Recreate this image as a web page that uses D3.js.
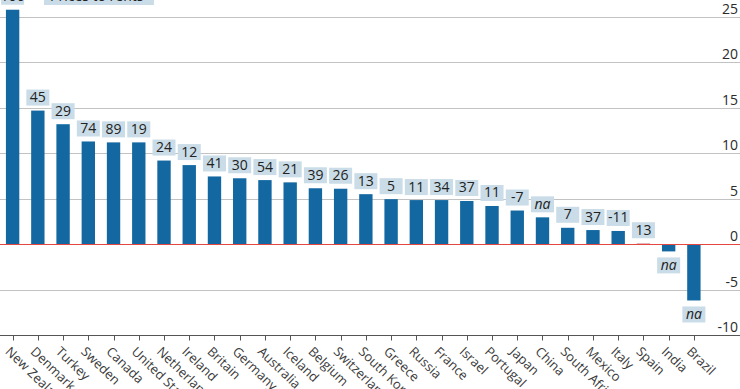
<!DOCTYPE html>
<html>
<head>
<meta charset="utf-8">
<script src="https://d3js.org/d3.v7.min.js"></script>
<style>
  body { margin: 0; background: #fff; }
  svg { display: block; font-family: "Open Sans", sans-serif; }
</style>
</head>
<body>
<div class="chart"></div>
<script>
  var width = 740,
      height = 389;

  // countries, price-to-income change (bars) and label above/below each bar
  var countries = ["New Zealand","Denmark","Turkey","Sweden","Canada","United States","Netherlands",
                   "Ireland","Britain","Germany","Australia","Iceland","Belgium","Switzerland",
                   "South Korea","Greece","Russia","France","Israel","Portugal","Japan","China",
                   "South Africa","Mexico","Italy","Spain","India","Brazil"];
  var values = [25.8,14.7,13.2,11.3,11.2,11.2,9.2,8.7,7.45,7.25,7.05,6.8,6.15,6.1,
                5.5,4.95,4.85,4.85,4.75,4.2,3.7,2.95,1.8,1.55,1.45,0.1,-0.8,-6.2];
  var rentLabels = ["100","45","29","74","89","19","24","12","41","30","54","21","39","26",
                    "13","5","11","34","37","11","-7","na","7","37","-11","13","na","na"];
  var yTicks = [-10,-5,0,5,10,15,20,25];

  var svg = d3.select(".chart")
      .append("svg")
      .attr("width", width)
      .attr("height", height);

  var x = d3.scaleBand()
      .domain(countries)
      .range([0, 706.5])
      .paddingInner(0.47)
      .paddingOuter(0.235);

  var y = d3.scaleLinear()
      .domain([-10, 25])
      .range([335, 17]);

  // gridlines + right hand labels
  svg.append("g")
      .attr("class", "grid")
      .selectAll("line")
      .data(yTicks.filter(function(d){ return d != 0 && d != -10; }))
      .enter()
      .append("line")
      .attr("x1", 0)
      .attr("x2", width)
      .attr("y1", function(d){ return Math.round(y(d)) + 0.5; })
      .attr("y2", function(d){ return Math.round(y(d)) + 0.5; })
      .attr("stroke", "#c2c2c2")
      .attr("stroke-width", "1px");

  svg.append("g")
      .attr("class", "ylabels")
      .selectAll("text")
      .data(yTicks)
      .enter()
      .append("text")
      .attr("x", 738)
      .attr("y", function(d){ return y(d) - 3; })
      .attr("text-anchor", "end")
      .attr("font-size", "14px")
      .attr("fill", "#2a2a2a")
      .text(function(d){ return d; });

  // legend box, mostly cut off at the top
  svg.append("rect")
      .attr("x", 44)
      .attr("y", -12)
      .attr("width", 110)
      .attr("height", 17)
      .attr("fill", "#c9dce7");

  svg.append("text")
      .attr("x", 50)
      .attr("y", 1)
      .attr("font-size", "14px")
      .attr("fill", "#222")
      .text("Prices to rents");

  // bars
  svg.append("g")
      .attr("class", "bars")
      .selectAll("rect")
      .data(values)
      .enter()
      .append("rect")
      .attr("x", function(d,i){ return x(countries[i]); })
      .attr("width", x.bandwidth())
      .attr("y", function(d){ return Math.min(y(d), y(0)); })
      .attr("height", function(d){ return Math.abs(y(d) - y(0)); })
      .attr("fill", function(d){ return Math.abs(d) < 0.3 ? "#d9a0a6" : "#1368a2"; });

  // zero line
  svg.append("line")
      .attr("x1", 0)
      .attr("x2", width)
      .attr("y1", Math.round(y(0)) + 0.5)
      .attr("y2", Math.round(y(0)) + 0.5)
      .attr("stroke", "#e3473f")
      .attr("stroke-width", "1px");

  // value boxes
  var boxW = 23, boxH = 16;
  var labels = svg.append("g")
      .attr("class", "valuelabels")
      .selectAll("g")
      .data(values)
      .enter()
      .append("g")
      .attr("transform", function(d,i){
        var cx = x(countries[i]) + x.bandwidth() / 2;
        var top = d >= 0 ? y(d) - 5 - boxH : y(d) + 6;
        return "translate(" + (cx - boxW / 2) + "," + top + ")";
      });

  labels.append("rect")
      .attr("width", boxW)
      .attr("height", boxH)
      .attr("fill", "#c9dce7");

  labels.append("text")
      .attr("x", boxW / 2)
      .attr("y", 12.5)
      .attr("text-anchor", "middle")
      .attr("font-size", "14px")
      .attr("font-style", function(d,i){ return rentLabels[i] == "na" ? "italic" : "normal"; })
      .attr("fill", "#222")
      .text(function(d,i){ return rentLabels[i]; });

  // bottom axis
  var axisY = Math.round(y(-10)) + 0.5;
  svg.append("line")
      .attr("x1", 0)
      .attr("x2", width)
      .attr("y1", axisY)
      .attr("y2", axisY)
      .attr("stroke", "#555")
      .attr("stroke-width", "1.2px");

  svg.append("g")
      .attr("class", "ticks")
      .selectAll("line")
      .data(countries)
      .enter()
      .append("line")
      .attr("x1", function(d){ return Math.round(x(d) + x.bandwidth() / 2) + 0.5; })
      .attr("x2", function(d){ return Math.round(x(d) + x.bandwidth() / 2) + 0.5; })
      .attr("y1", axisY)
      .attr("y2", axisY + 5)
      .attr("stroke", "#555")
      .attr("stroke-width", "1px");

  svg.append("g")
      .attr("class", "xlabels")
      .selectAll("text")
      .data(countries)
      .enter()
      .append("text")
      .attr("transform", function(d){
        var cx = x(d) + x.bandwidth() / 2;
        return "translate(" + (cx - 8) + "," + (axisY + 17) + ") rotate(44)";
      })
      .attr("font-size", "13px")
      .attr("fill", "#3a3a3a")
      .text(function(d){ return d; });
</script>
</body>
</html>
